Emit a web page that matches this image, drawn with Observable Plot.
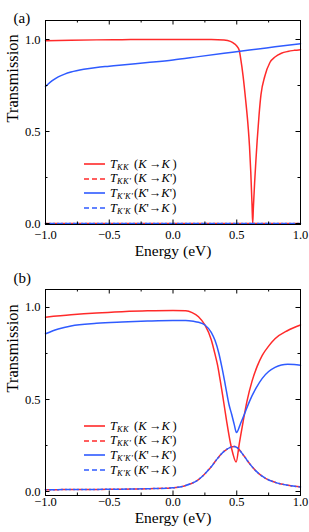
<!DOCTYPE html>
<html><head><meta charset="utf-8">
<script src="https://cdn.jsdelivr.net/npm/d3@7"></script>
<script src="https://cdn.jsdelivr.net/npm/@observablehq/plot@0.6"></script>
<style>
body{margin:0;background:#fff;}
#wrap{position:relative;width:309px;height:532px;font-family:"Liberation Serif","Times New Roman",serif;color:#000;}
#pa{position:absolute;left:0;top:0;}
#pb{position:absolute;left:0;top:262px;}
.legend{position:absolute;left:84px;font-size:12.5px;}
.row{display:flex;align-items:center;height:14.6px;white-space:nowrap;}
.row svg{margin-right:5px;flex:none;}
.row sub{font-size:8.5px;font-style:italic;vertical-align:-2px;letter-spacing:0.3px;}
.row .t{display:inline-block;width:24px;}
</style></head>
<body><div id="wrap"><div id="pa"></div><div id="pb"></div>
<div class="legend" id="la" style="top:157px"></div>
<div class="legend" id="lb" style="top:419px"></div>
</div>
<script>
// ---------- data ----------
const xTicks = [-1, -0.5, 0, 0.5, 1];
const xMinor = [-0.75, -0.25, 0.25, 0.75];
const yTicks = [0, 0.5, 1];
const yMinor = [0.25, 0.75];

// panel (a)
const aKK_E = [-1,-0.8,-0.6,-0.4,-0.2,0,0.2,0.3,0.4,0.45,0.48,0.5,0.52,0.53,0.55,0.57,0.59,0.6,0.61,0.62,0.625,0.63,0.64,0.65,0.66,0.675,0.69,0.72,0.76,0.8,0.85,0.9,0.95,1.0];
const aKK_T = [0.993,0.996,0.998,0.999,1.0,1.0,1.0,1.0,0.997,0.99,0.978,0.965,0.94,0.9,0.8,0.67,0.52,0.42,0.28,0.1,0.0,0.08,0.22,0.34,0.45,0.59,0.7,0.8,0.875,0.905,0.925,0.935,0.941,0.945];
const aKKp_E = [-1,-0.5,0,0.5,1];
const aKKp_T = [0,0,0,0,0];
const aKpKp_E = [-1,-0.95,-0.9,-0.85,-0.8,-0.7,-0.6,-0.5,-0.4,-0.2,0,0.2,0.4,0.6,0.8,1.0];
const aKpKp_T = [0.745,0.775,0.797,0.812,0.823,0.838,0.848,0.855,0.862,0.875,0.889,0.907,0.925,0.943,0.96,0.977];
const aKpK_E = [-1,-0.5,0,0.5,1];
const aKpK_T = [0,0,0,0,0];

// panel (b)
const bKK_E = [-1,-0.8,-0.6,-0.4,-0.2,0,0.1,0.15,0.2,0.25,0.3,0.33,0.35,0.37,0.39,0.42,0.45,0.47,0.495,0.52,0.55,0.58,0.62,0.66,0.7,0.75,0.8,0.9,1.0];
const bKK_T = [0.947,0.96,0.97,0.977,0.982,0.984,0.982,0.972,0.95,0.905,0.825,0.745,0.685,0.605,0.52,0.385,0.265,0.205,0.16,0.26,0.38,0.49,0.6,0.68,0.74,0.79,0.83,0.875,0.905];
const bKKp_E = [-1,-0.5,-0.2,0,0.1,0.2,0.3,0.35,0.4,0.45,0.48,0.5,0.55,0.6,0.65,0.7,0.8,0.9,1.0];
const bKKp_T = [0.01,0.012,0.015,0.02,0.033,0.065,0.135,0.18,0.218,0.24,0.245,0.24,0.2,0.152,0.112,0.083,0.05,0.034,0.025];
const bKpKp_E = [-1,-0.9,-0.8,-0.6,-0.4,-0.2,0,0.1,0.16,0.2,0.25,0.3,0.33,0.36,0.385,0.41,0.44,0.46,0.48,0.498,0.53,0.56,0.6,0.65,0.7,0.75,0.8,0.85,0.9,0.95,1.0];
const bKpKp_T = [0.857,0.883,0.9,0.914,0.921,0.926,0.929,0.929,0.925,0.92,0.905,0.865,0.82,0.75,0.67,0.58,0.47,0.42,0.365,0.32,0.37,0.42,0.49,0.56,0.615,0.652,0.675,0.688,0.692,0.69,0.686];
const bKpK_E = [-1,-0.5,-0.2,0,0.1,0.2,0.3,0.35,0.4,0.45,0.48,0.5,0.55,0.6,0.65,0.7,0.8,0.9,1.0];
const bKpK_T = [0.01,0.012,0.015,0.02,0.033,0.065,0.135,0.18,0.218,0.24,0.245,0.24,0.2,0.152,0.112,0.083,0.05,0.034,0.025];

const RED = "#ff2a2a", BLUE = "#2f5bff";
const DASH = "5,3";

const rows = (E, T) => E.map((e, i) => ({E: e, T: T[i]}));

function panel({series, yDomain, height, marginTop, marginBottom, tag, tagDy, tickDy, labelDy}) {
  const W = 309, mL = 45, mR = 9;
  const H = height - marginTop - marginBottom;
  const FW = W - mL - mR;
  const maj = 4.5, mnr = 2.5;
  const lineMarks = series.map(s => Plot.line(rows(s.E, s.T), {
    x: "E", y: "T", stroke: s.color, strokeWidth: 1.5, curve: "monotone-x",
    strokeDasharray: s.dash ? DASH : null, strokeDashoffset: s.offset || 0
  }));
  return Plot.plot({
    width: W, height, marginLeft: mL, marginRight: mR, marginTop, marginBottom,
    style: {fontFamily: "'Liberation Serif', 'Times New Roman', serif", fontSize: "12.5px", background: "transparent", overflow: "visible", color: "#000"},
    x: {domain: [-1, 1]},
    y: {domain: yDomain},
    marks: [
      ...lineMarks,
      Plot.frame({stroke: "#000", strokeWidth: 1}),
      Plot.ruleX(xTicks, {x: d => d, insetTop: H - maj}),
      Plot.ruleX(xTicks, {x: d => d, insetBottom: H - maj}),
      Plot.ruleX(xMinor, {x: d => d, insetTop: H - mnr}),
      Plot.ruleX(xMinor, {x: d => d, insetBottom: H - mnr}),
      Plot.ruleY(yTicks, {y: d => d, insetRight: FW - maj}),
      Plot.ruleY(yTicks, {y: d => d, insetLeft: FW - maj}),
      Plot.ruleY(yMinor, {y: d => d, insetRight: FW - mnr}),
      Plot.ruleY(yMinor, {y: d => d, insetLeft: FW - mnr}),
      Plot.axisX(xTicks, {tickSize: 0, tickPadding: tickDy, tickFormat: d3.format(".1f"), label: null, fontSize: 12.5}),
      Plot.axisY(yTicks, {tickSize: 0, tickPadding: 5, tickFormat: d3.format(".1f"), label: null, fontSize: 12.5}),
      Plot.text(["Energy (eV)"], {frameAnchor: "bottom", dy: labelDy, fontSize: 15.5}),
      Plot.text(["Transmission"], {frameAnchor: "left", dx: -33, rotate: -90, fontSize: 16.5}),
      Plot.text([tag], {frameAnchor: "top-left", dx: -32, dy: tagDy, fontSize: 15})
    ]
  });
}

document.getElementById("pa").append(panel({
  series: [
    {E: aKK_E, T: aKK_T, color: RED},
    {E: aKpKp_E, T: aKpKp_T, color: BLUE},
    {E: aKKp_E, T: aKKp_T, color: RED, dash: true},
    {E: aKpK_E, T: aKpK_T, color: BLUE, dash: true, offset: 4}
  ],
  yDomain: [-0.0054, 1.1033], height: 262, marginTop: 20, marginBottom: 38,
  tag: "(a)", tagDy: -8, tickDy: 6, labelDy: 31
}));

document.getElementById("pb").append(panel({
  series: [
    {E: bKK_E, T: bKK_T, color: RED},
    {E: bKpKp_E, T: bKpKp_T, color: BLUE},
    {E: bKKp_E, T: bKKp_T, color: RED, dash: true},
    {E: bKpK_E, T: bKpK_T, color: BLUE, dash: true, offset: 4}
  ],
  yDomain: [-0.0217, 1.0978], height: 270, marginTop: 27, marginBottom: 37,
  tag: "(b)", tagDy: -17, tickDy: 2, labelDy: 27.5
}));

// legends
const legendItems = [
  {color: RED, dash: false, sub: "KK", from: "K", fromP: "", to: "K", toP: ""},
  {color: RED, dash: true, sub: "KK'", from: "K", fromP: "", to: "K", toP: "'"},
  {color: BLUE, dash: false, sub: "K'K'", from: "K", fromP: "'", to: "K", toP: "'"},
  {color: BLUE, dash: true, sub: "K'K", from: "K", fromP: "'", to: "K", toP: ""}
];
function buildLegend(el) {
  for (const it of legendItems) {
    const row = document.createElement("div");
    row.className = "row";
    const sw = `<svg width="21" height="4"><line x1="0" y1="2" x2="21" y2="2" stroke="${it.color}" stroke-width="1.6" ${it.dash ? `stroke-dasharray="${DASH}"` : ""}/></svg>`;
    const closeFrom = it.fromP ? it.fromP : "&thinsp;";
    const closeTo = it.toP ? it.toP : "&thinsp;";
    row.innerHTML = `${sw}<span class="t"><i>T</i><sub>${it.sub}</sub></span><span>(<i>${it.from}</i>${closeFrom}→<i>${it.to}</i>${closeTo})</span>`;
    el.append(row);
  }
}
buildLegend(document.getElementById("la"));
buildLegend(document.getElementById("lb"));
</script>
</body></html>
